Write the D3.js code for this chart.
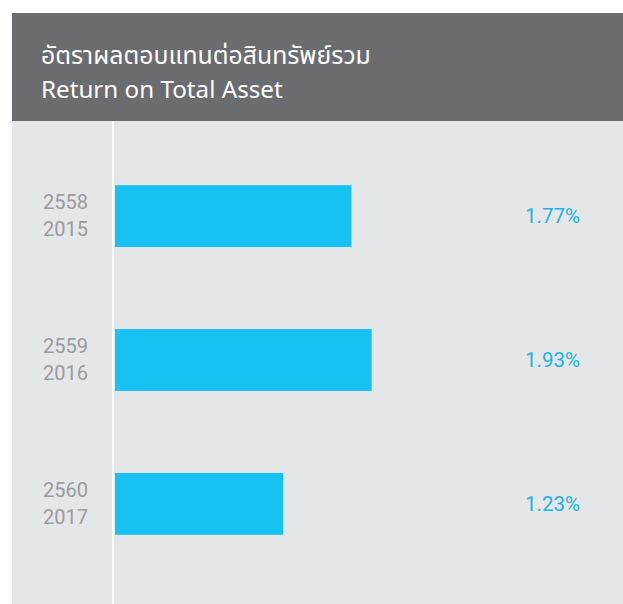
<!DOCTYPE html>
<html>
<head>
<meta charset="utf-8">
<script src="https://cdn.jsdelivr.net/npm/d3@7"></script>
<style>
  body { margin: 0; background: #fff; }
  svg { display: block; }
</style>
</head>
<body>
<div id="chart"></div>
<script>
const titleTh = 'อัตราผลตอบแทนต่อสินทรัพย์รวม';
const titleEn = 'Return on Total Asset';
const yearsTh = ['2558', '2559', '2560'];
const yearsEn = ['2015', '2016', '2017'];
const roaValues = [1.77, 1.93, 1.23];

const width = 623, height = 604;
let svg = d3.select('#chart').append('svg')
    .attr('width', width)
    .attr('height', height);

// panels
svg.append('rect')
    .attr('x', 12).attr('y', 121)
    .attr('width', width - 12).attr('height', height - 121)
    .attr('fill', '#e5e6e8');

svg.append('rect')
    .attr('x', 12).attr('y', 13)
    .attr('width', width - 12).attr('height', 108)
    .attr('fill', '#6b6c70');

svg.append('text')
    .attr('x', 41).attr('y', 64)
    .attr('fill', '#ffffff')
    .style('font-family', '"Noto Sans Thai", "Noto Sans", sans-serif')
    .style('font-size', '24.8px')
    .text(titleTh);

svg.append('text')
    .attr('x', 41).attr('y', 98)
    .attr('fill', '#ffffff')
    .style('font-family', '"Noto Sans", sans-serif')
    .style('font-size', '24.2px')
    .text(titleEn);

// bars start a touch before zero in the original artwork
let x = d3.scaleLinear().domain([-0.11, 3.5]).range([114, 570]);
let y = d3.scaleBand().domain(yearsEn).range([142, 578]).paddingInner(0.57).paddingOuter(0.3);

// axis line
svg.append('line')
    .attr('x1', 113).attr('x2', 113)
    .attr('y1', 121).attr('y2', height)
    .attr('stroke', '#ffffff')
    .attr('stroke-width', 2);

let rows = svg.append('g').selectAll('g')
    .data(roaValues.map((v, i) => ({ v, en: yearsEn[i], th: yearsTh[i] })))
    .join('g');

rows.append('rect')
    .attr('x', x.range()[0] + 1)
    .attr('y', d => y(d.en))
    .attr('width', d => x(d.v) - x.range()[0] - 1)
    .attr('height', y.bandwidth())
    .attr('fill', '#17c2f3');

rows.append('text')
    .attr('x', 88)
    .attr('y', d => y(d.en) + y.bandwidth() / 2 - 7)
    .attr('text-anchor', 'end')
    .attr('fill', '#9b9b9d')
    .style('font-family', 'Roboto, sans-serif')
    .style('font-size', '20px')
    .text(d => d.th);

rows.append('text')
    .attr('x', 88)
    .attr('y', d => y(d.en) + y.bandwidth() / 2 + 20)
    .attr('text-anchor', 'end')
    .attr('fill', '#9b9b9d')
    .style('font-family', 'Roboto, sans-serif')
    .style('font-size', '20px')
    .text(d => d.en);

rows.append('text')
    .attr('x', 580)
    .attr('y', d => y(d.en) + y.bandwidth() / 2 + 7)
    .attr('text-anchor', 'end')
    .attr('fill', '#1ab4ea')
    .style('font-family', 'Roboto, sans-serif')
    .style('font-size', '20.5px')
    .text(d => d3.format('.2f')(d.v) + '%');
</script>
</body>
</html>
